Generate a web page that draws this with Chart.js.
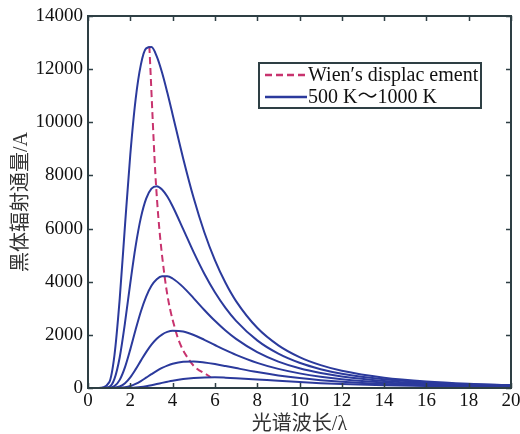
<!DOCTYPE html>
<html>
<head>
<meta charset="utf-8">
<script src="https://cdn.jsdelivr.net/npm/chart.js"></script>
<style>
  html, body { margin: 0; padding: 0; background: #fff; }
  #wrap { position: relative; width: 520px; height: 434px; }
</style>
</head>
<body>
<div id="wrap"><canvas id="chart"></canvas></div>
<script>
// wavelength samples (x) shared by all curves
const lambda = [0, 0.5, 1, 1.25, 1.5, 1.75, 2, 2.25, 2.5, 2.75, 3, 3.25, 3.5, 3.75, 4, 4.5, 5, 5.5, 6, 6.5, 7, 8, 9, 10, 11, 12, 14, 16, 18, 20];

const temps = [1000, 900, 800, 700, 600, 500];
const t1000 = [0, 0, 211, 1229, 3364, 6129, 8789, 10857, 12170, 12780, 12829, 12480, 11874, 11119, 10296, 8641, 7140, 5862, 4812, 3958, 3269, 2265, 1606, 1164, 861, 649, 388, 245, 162, 111];
const t900 = [0, 0, 43, 342, 1159, 2457, 3950, 5330, 6411, 7128, 7503, 7595, 7473, 7204, 6840, 5980, 5102, 4299, 3601, 3014, 2526, 1791, 1291, 948, 709, 539, 326, 208, 138, 96];
const t800 = [0, 0, 6, 69, 306, 785, 1454, 2192, 2880, 3441, 3846, 4094, 4204, 4204, 4121, 3796, 3374, 2937, 2528, 2163, 1847, 1348, 994, 742, 563, 433, 266, 172, 115, 80];
const t700 = [0, 0, 0, 9, 55, 181, 402, 700, 1030, 1351, 1631, 1853, 2012, 2110, 2156, 2127, 1996, 1814, 1618, 1426, 1248, 947, 719, 550, 424, 331, 208, 137, 93, 65];
const t600 = [0, 0, 0, 1, 6, 26, 73, 153, 262, 389, 520, 645, 755, 844, 913, 988, 998, 962, 901, 827, 749, 600, 474, 374, 296, 236, 153, 103, 71, 51];
const t500 = [0, 0, 0, 0, 0, 2, 7, 18, 38, 68, 105, 147, 192, 235, 275, 339, 380, 399, 401, 390, 371, 322, 270, 223, 183, 150, 102, 71, 50, 36];

// peak points (Wien's displacement)
const wienX = [2.9, 3.22, 3.62, 4.14, 4.83, 5.8];
const wienY = [12867, 7598, 4216, 2163, 1001, 402];

const legendLabels = ["Wien\u2032s displac ement", "500 K\uFF5E1000 K"];
const xTitle = "光谱波长/λ";
const yTitle = "黑体辐射通量/A";

const blue = "#2b3a9c";
const crimson = "#c8336e";
const frameColor = "#2e3f44";
const serif = "'Liberation Serif', 'Noto Sans CJK SC', serif";

function pts(xs, ys) {
  return xs.map((x, i) => ({ x: x, y: ys[i] }));
}

const curves = [t1000, t900, t800, t700, t600, t500];
const datasets = curves.map((ys, i) => ({
  label: temps[i] + " K",
  data: pts(lambda, ys),
  borderColor: blue,
  borderWidth: 2,
  pointRadius: 0,
  cubicInterpolationMode: "monotone",
  fill: false,
}));
datasets.push({
  label: "Wien",
  data: pts(wienX, wienY),
  borderColor: crimson,
  borderWidth: 2,
  borderDash: [7, 4],
  pointRadius: 0,
  cubicInterpolationMode: "monotone",
  fill: false,
});

// frame, inward tick marks and boxed legend
const framePlugin = {
  id: "frame",
  afterDraw(chart) {
    const ctx = chart.ctx;
    const a = chart.chartArea;
    const xs = chart.scales.x;
    const ys = chart.scales.y;
    ctx.save();
    ctx.strokeStyle = frameColor;
    ctx.lineWidth = 2;
    ctx.strokeRect(a.left, a.top, a.right - a.left, a.bottom - a.top);
    ctx.lineWidth = 1.5;
    ctx.beginPath();
    xs.ticks.forEach(t => {
      const px = Math.round(xs.getPixelForValue(t.value)) + 0.5;
      ctx.moveTo(px, a.bottom); ctx.lineTo(px, a.bottom - 5);
      ctx.moveTo(px, a.top); ctx.lineTo(px, a.top + 5);
    });
    ys.ticks.forEach(t => {
      const py = Math.round(ys.getPixelForValue(t.value)) + 0.5;
      ctx.moveTo(a.left, py); ctx.lineTo(a.left + 5, py);
      ctx.moveTo(a.right, py); ctx.lineTo(a.right - 5, py);
    });
    ctx.stroke();

    // legend
    const bx = 259, by = 63, bw = 222, bh = 45;
    ctx.fillStyle = "#fff";
    ctx.fillRect(bx, by, bw, bh);
    ctx.strokeStyle = frameColor;
    ctx.lineWidth = 2;
    ctx.strokeRect(bx, by, bw, bh);
    const entries = [
      { ds: chart.data.datasets[chart.data.datasets.length - 1], text: legendLabels[0], y: by + 12 },
      { ds: chart.data.datasets[0], text: legendLabels[1], y: by + 34 },
    ];
    ctx.font = "20px " + serif;
    ctx.textBaseline = "middle";
    entries.forEach(e => {
      ctx.strokeStyle = e.ds.borderColor;
      ctx.lineWidth = 2.5;
      ctx.setLineDash(e.ds.borderDash || []);
      ctx.beginPath();
      ctx.moveTo(bx + 6, e.y);
      ctx.lineTo(bx + 48, e.y);
      ctx.stroke();
      ctx.setLineDash([]);
      ctx.fillStyle = "#111";
      ctx.fillText(e.text, bx + 49, e.y + 1);
    });
    ctx.restore();
  },
};

new Chart(document.getElementById("chart"), {
  type: "line",
  data: { datasets: datasets },
  options: {
    responsive: true,
    maintainAspectRatio: false,
    animation: false,
    layout: { padding: { top: 16, right: 9, left: 0, bottom: 0 } },
    plugins: {
      legend: { display: false },
      tooltip: { enabled: false },
    },
    scales: {
      x: {
        type: "linear",
        min: 0,
        max: 20,
        grid: { display: false },
        border: { display: false },
        ticks: {
          stepSize: 2,
          autoSkip: false,
          maxRotation: 0,
          padding: -6,
          color: "#111",
          font: { family: serif, size: 19 },
        },
        title: {
          display: true,
          text: xTitle,
          color: "#333",
          padding: { top: 0, bottom: -3 },
          font: { family: serif, size: 20 },
        },
        afterFit(s) { s.height = 46; },
      },
      y: {
        min: 0,
        max: 14000,
        grid: { display: false },
        border: { display: false },
        ticks: {
          stepSize: 2000,
          padding: -3,
          color: "#111",
          font: { family: serif, size: 19 },
          callback: v => String(v),
        },
        title: {
          display: true,
          text: yTitle,
          color: "#333",
          padding: { top: 10, bottom: 0 },
          font: { family: serif, size: 20 },
        },
        afterFit(s) { s.width = 88; },
      },
    },
  },
  plugins: [framePlugin],
});
</script>
</body>
</html>
